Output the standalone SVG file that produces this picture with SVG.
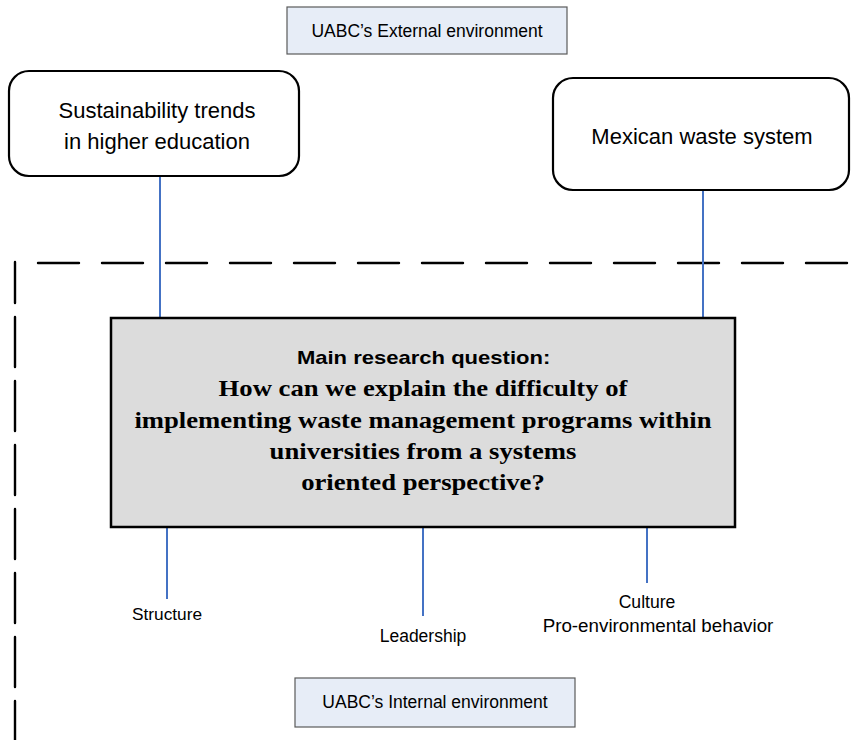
<svg xmlns="http://www.w3.org/2000/svg" width="851" height="740" viewBox="0 0 851 740">
  <style>
    .sans { font-family: "Liberation Sans", Arial, sans-serif; fill: #000; }
    .serif { font-family: "Liberation Serif", "Times New Roman", serif; font-weight: bold; fill: #000; }
    .env { fill: #E7EDF7; stroke: #5a5a5a; stroke-width: 1.2; }
    .factor { fill: #fff; stroke: #000; stroke-width: 2.2; }
    .link { stroke: #4472C4; stroke-width: 2; fill: none; }
    .boundary { stroke: #000; stroke-width: 2.4; fill: none; stroke-linecap: round; }
  </style>

  <!-- system boundary (dashed) -->
  <g id="boundary">
    <path class="boundary" d="M38 263 H851" stroke-dasharray="41 23"/>
    <path class="boundary" d="M15 262 V740" stroke-dasharray="41 14 50 14 50 14 50 14 50 14 50 14 50 14 50 14"/>
  </g>

  <!-- connectors -->
  <g id="connectors">
    <line class="link" x1="160" y1="176" x2="160" y2="318"/>
    <line class="link" x1="703" y1="190" x2="703" y2="318"/>
    <line class="link" x1="167" y1="527" x2="167" y2="599"/>
    <line class="link" x1="423" y1="527" x2="423" y2="616"/>
    <line class="link" x1="647" y1="527" x2="647" y2="583"/>
  </g>

  <g id="external-env">
    <rect class="env" x="287" y="7" width="280" height="47"/>
    <text class="sans" x="427" y="37" font-size="17.5" text-anchor="middle">UABC’s External environment</text>
  </g>

  <g id="sustainability-trends">
    <rect class="factor" x="9" y="71" width="290" height="105" rx="20" ry="20"/>
    <text class="sans" x="157" y="118" font-size="22" text-anchor="middle">Sustainability trends</text>
    <text class="sans" x="157" y="149" font-size="22" text-anchor="middle">in higher education</text>
  </g>

  <g id="mexican-waste">
    <rect class="factor" x="553" y="78" width="296" height="112" rx="20" ry="20"/>
    <text class="sans" x="702" y="144" font-size="22" text-anchor="middle">Mexican waste system</text>
  </g>

  <g id="research-question">
    <rect x="111" y="318" width="624" height="209" fill="#DCDCDC" stroke="#000" stroke-width="2.5"/>
    <!-- question text is set slightly widened about the box centre (x=423) -->
    <g transform="matrix(1.16 0 0 1 -67.68 0)">
      <text class="sans" x="423.5" y="364" font-size="19" font-weight="bold" text-anchor="middle">Main research question:</text>
      <text class="serif" x="423" y="396" font-size="23" text-anchor="middle">How can we explain the difficulty of</text>
      <text class="serif" x="423" y="428" font-size="23" text-anchor="middle">implementing waste management programs within</text>
      <text class="serif" x="423" y="459" font-size="23" text-anchor="middle">universities from a systems</text>
      <text class="serif" x="423" y="490" font-size="23" text-anchor="middle">oriented perspective?</text>
    </g>
  </g>

  <g id="structure">
    <text class="sans" x="167" y="620" font-size="17.3" text-anchor="middle">Structure</text>
  </g>

  <g id="leadership">
    <text class="sans" x="423" y="642" font-size="17.5" text-anchor="middle">Leadership</text>
  </g>

  <g id="culture">
    <text class="sans" x="647" y="608" font-size="17.6" text-anchor="middle">Culture</text>
    <text class="sans" x="658" y="632" font-size="18.8" text-anchor="middle">Pro-environmental behavior</text>
  </g>

  <g id="internal-env">
    <rect class="env" x="295" y="678" width="280" height="49"/>
    <text class="sans" x="435" y="708" font-size="17.5" text-anchor="middle">UABC’s Internal environment</text>
  </g>
</svg>
